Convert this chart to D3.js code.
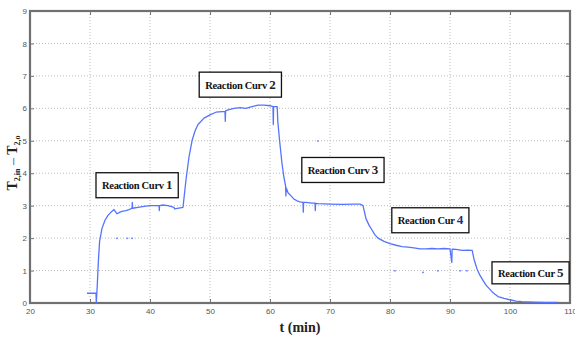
<!DOCTYPE html>
<html>
<head>
<meta charset="utf-8">
<script src="https://cdn.jsdelivr.net/npm/d3@7"></script>
<style>
  body { margin: 0; background: #fff; }
  svg { display: block; }
</style>
</head>
<body>
<svg width="575" height="338"></svg>
<script>
// measured trace, t in minutes
const time = [29.5, 30.9, 31.0, 31.05, 31.2, 31.4, 31.6, 32.0, 32.5, 33.0, 33.5, 34.0, 34.5, 35.0, 35.5, 36.0, 36.5, 37.0, 37.05, 37.1,
  38, 39, 40, 41, 41.5, 41.55, 41.6, 42, 43, 44, 44.1, 45.5, 46.0, 46.5, 47, 47.5, 48, 49, 50, 51, 52, 52.5, 52.55, 52.6,
  53, 54, 55, 56, 57, 58, 59, 60, 60.5, 60.55, 60.6, 61, 61.2, 61.3, 61.6, 62, 62.3, 62.6, 62.65, 62.7, 63, 63.5, 64, 64.5,
  65, 65.5, 65.55, 65.6, 66, 67, 67.5, 67.55, 67.6, 68, 70, 72, 74, 75, 75.5, 76, 76.5, 77, 77.5, 78, 79, 80, 81, 82, 83, 84,
  85, 86, 87, 88, 89, 90, 90.3, 90.35, 90.4, 91, 92, 93, 93.7, 94, 94.5, 95, 95.5, 96, 96.5, 97, 97.5, 98, 99, 100, 101, 102,
  104, 106, 108];
const deltaT = [0.3, 0.3, 0.3, 0.0, 0.5, 1.3, 1.9, 2.3, 2.55, 2.7, 2.8, 2.88, 2.75, 2.8, 2.83, 2.85, 2.88, 2.92, 3.1, 2.92,
  2.95, 2.98, 3.0, 3.0, 3.0, 2.85, 3.0, 3.02, 3.0, 2.95, 2.9, 2.95, 3.8, 4.5, 5.0, 5.3, 5.5, 5.7, 5.8, 5.88, 5.9, 5.9, 5.6, 5.92,
  5.95, 6.0, 6.02, 6.0, 6.05, 6.1, 6.1, 6.08, 6.05, 5.5, 6.05, 6.05, 6.05, 5.6, 5.0, 4.3, 3.9, 3.6, 3.3, 3.55, 3.4, 3.3, 3.2, 3.15,
  3.12, 3.1, 2.8, 3.1, 3.1, 3.08, 3.08, 2.85, 3.07, 3.06, 3.05, 3.04, 3.05, 3.05, 3.0, 2.6, 2.4, 2.25, 2.1, 2.0, 1.9, 1.83, 1.78, 1.74, 1.72, 1.7,
  1.67, 1.67, 1.68, 1.67, 1.68, 1.67, 1.25, 1.66, 1.66, 1.65, 1.62, 1.63, 1.62, 1.35, 1.05, 0.85, 0.7, 0.55, 0.45, 0.35, 0.27, 0.2, 0.14, 0.1, 0.06, 0.04,
  0.03, 0.02, 0.02];

// stray samples
const dotT = [34.5, 36.2, 37.0, 68.0, 80.8, 85.5, 88.0, 91.7, 92.8];
const dotV = [2.0, 2.0, 2.0, 5.0, 1.0, 0.95, 1.0, 1.0, 1.0];

// annotations (box left edge in minutes, box centre in deltaT)
const noteText = ["Reaction Curv ", "Reaction Curv ", "Reaction Curv ", "Reaction Cur ", "Reaction Cur "];
const noteNum = ["1", "2", "3", "4", "5"];
const noteT = [31.0, 48.2, 65.3, 80.3, 97.0];
const noteV = [3.63, 6.73, 4.1, 2.55, 0.93];

const xTicks = [20, 30, 40, 50, 60, 70, 80, 90, 100, 110];
const yTicks = [0, 1, 2, 3, 4, 5, 6, 7, 8, 9];

const svg = d3.select('svg');
const plotL = 30, plotR = 570, plotT = 11, plotB = 303;

const x = d3.scaleLinear().domain([20, 110]).range([plotL, plotR]);
const y = d3.scaleLinear().domain([0, 9]).range([plotB, plotT]);

// grid
svg.append('g')
  .selectAll('line')
  .data(xTicks.slice(1, -1))
  .join('line')
  .attr('x1', d => x(d)).attr('x2', d => x(d))
  .attr('y1', plotT).attr('y2', plotB)
  .attr('stroke', '#bcbcbc').attr('stroke-width', 1)
  .attr('stroke-dasharray', '1,2');
svg.append('g')
  .selectAll('line')
  .data(yTicks.slice(1, -1))
  .join('line')
  .attr('x1', plotL).attr('x2', plotR)
  .attr('y1', d => y(d)).attr('y2', d => y(d))
  .attr('stroke', '#bcbcbc').attr('stroke-width', 1)
  .attr('stroke-dasharray', '1,2');

// axes (inward ticks, like matlab)
svg.append('g')
  .attr('class', 'axis')
  .attr('transform', `translate(0,${plotB})`)
  .call(d3.axisBottom(x).tickValues(xTicks).tickSize(-4).tickPadding(5));
svg.append('g')
  .attr('class', 'axis')
  .attr('transform', `translate(${plotL},0)`)
  .call(d3.axisLeft(y).tickValues(yTicks).tickSize(-4).tickPadding(3));
svg.append('g')
  .attr('transform', `translate(0,${plotT})`)
  .call(d3.axisTop(x).tickValues(xTicks).tickSize(-4).tickFormat(''));
svg.append('g')
  .attr('transform', `translate(${plotR},0)`)
  .call(d3.axisRight(y).tickValues(yTicks).tickSize(-4).tickFormat(''));

svg.selectAll('.tick line').attr('stroke', '#777');
svg.selectAll('.domain').attr('stroke', 'none');
svg.selectAll('.axis text')
  .attr('font-family', 'Liberation Sans, Arial, sans-serif')
  .attr('font-size', 8)
  .attr('fill', '#555');

// frame
svg.append('rect')
  .attr('x', plotL).attr('y', plotT)
  .attr('width', plotR - plotL).attr('height', plotB - plotT)
  .attr('fill', 'none')
  .attr('stroke', '#707070')
  .attr('stroke-width', 2.2);

// trace
const series = time.map((t, i) => [t, deltaT[i]]);
svg.append('path')
  .datum(series)
  .attr('fill', 'none')
  .attr('stroke', 'rgb(85, 115, 255)')
  .attr('stroke-width', 1.3)
  .attr('stroke-linejoin', 'round')
  .attr('d', d3.line().x(d => x(d[0])).y(d => y(d[1])));

svg.append('g')
  .selectAll('rect')
  .data(dotT.map((t, i) => [t, dotV[i]]))
  .join('rect')
  .attr('x', d => x(d[0]) - 1)
  .attr('y', d => y(d[1]) - 0.5)
  .attr('width', 2).attr('height', 1.5)
  .attr('fill', 'rgb(120, 145, 255)');

// annotation boxes
noteText.forEach((txt, i) => {
  const g = svg.append('g');
  const box = g.append('rect')
    .attr('fill', '#fff')
    .attr('stroke', '#111')
    .attr('stroke-width', 1.3);
  const label = g.append('text')
    .attr('x', x(noteT[i]) + 6)
    .attr('y', y(noteV[i]) + 4)
    .attr('font-family', 'Liberation Serif, Times New Roman, serif')
    .attr('font-weight', 'bold')
    .attr('font-size', 10.5)
    .attr('letter-spacing', -0.3)
    .attr('fill', '#111');
  label.append('tspan').text(txt);
  label.append('tspan')
    .attr('font-size', 13)
    .attr('fill', i === 3 ? '#1c2f8a' : '#222')
    .text(noteNum[i]);
  const w = label.node().getComputedTextLength();
  const h = i === 4 ? 22 : 25;
  box.attr('x', x(noteT[i]))
    .attr('y', y(noteV[i]) - h / 2)
    .attr('width', w + 12)
    .attr('height', h);
});

// axis titles
svg.append('text')
  .attr('x', (plotL + plotR) / 2)
  .attr('y', 332)
  .attr('text-anchor', 'middle')
  .attr('font-family', 'Liberation Serif, Times New Roman, serif')
  .attr('font-weight', 'bold')
  .attr('font-size', 14)
  .attr('fill', '#222')
  .text('t (min)');

const yl = svg.append('text')
  .attr('transform', 'translate(17,163) rotate(-90)')
  .attr('text-anchor', 'middle')
  .attr('font-family', 'Liberation Serif, Times New Roman, serif')
  .attr('font-weight', 'bold')
  .attr('font-size', 14)
  .attr('fill', '#222');
yl.append('tspan').text('T');
yl.append('tspan').attr('font-size', 8).attr('dy', 3).text('2,in');
yl.append('tspan').attr('dy', -3).attr('fill', '#4a7fe0').text(' \u2013 ');
yl.append('tspan').text('T');
yl.append('tspan').attr('font-size', 8).attr('dy', 3).text('2,o');
</script>
</body>
</html>
